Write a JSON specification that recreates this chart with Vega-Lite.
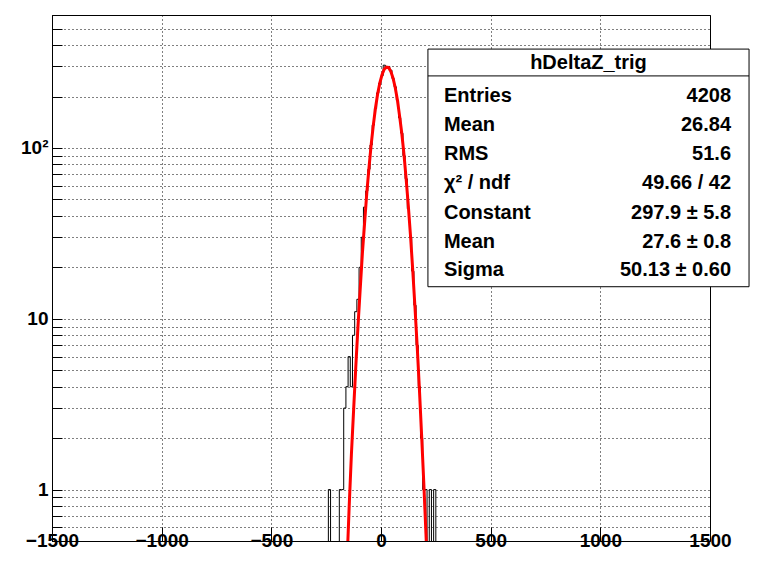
{
"$schema":"https://vega.github.io/schema/vega-lite/v6.json",
"width":658,"height":526,"autosize":"none",
"padding":{"left":52,"top":15,"right":51,"bottom":38},
"background":"white",
"config":{"view":{"stroke":"black","strokeWidth":1},"font":"Liberation Sans"},
"datasets":{
"hist":[
{"x":-260,"n":0.3},{"x":-240,"n":1},{"x":-230,"n":0.3},{"x":-190,"n":1},{"x":-180,"n":1},{"x":-170,"n":3},{"x":-160,"n":4},{"x":-150,"n":6},{"x":-140,"n":4},{"x":-130,"n":8},{"x":-120,"n":11},{"x":-110,"n":13},{"x":-100,"n":20},{"x":-90,"n":30},{"x":-80,"n":45},{"x":-70,"n":56},{"x":-60,"n":75},{"x":-50,"n":104},{"x":-40,"n":136},{"x":-30,"n":170},{"x":-20,"n":210},{"x":-10,"n":240},{"x":0,"n":265},{"x":10,"n":305},{"x":20,"n":295},{"x":30,"n":300},{"x":40,"n":285},{"x":50,"n":255},{"x":60,"n":228},{"x":70,"n":190},{"x":80,"n":150},{"x":90,"n":122},{"x":100,"n":90},{"x":110,"n":66},{"x":120,"n":44},{"x":130,"n":30},{"x":140,"n":19},{"x":150,"n":12},{"x":160,"n":7},{"x":170,"n":4},{"x":180,"n":2},{"x":190,"n":1},{"x":200,"n":1},{"x":210,"n":0.3},{"x":220,"n":1},{"x":230,"n":0.3},{"x":240,"n":1},{"x":250,"n":0.3},{"x":260,"n":0.3}
],
"fit":[
{"x":-160,"y":0.25},{"x":-145,"y":0.8},{"x":-135,"y":1.6},{"x":-125,"y":2.9},{"x":-115,"y":5.2},{"x":-105,"y":9},{"x":-95,"y":14.8},{"x":-85,"y":24},{"x":-75,"y":36},{"x":-65,"y":54},{"x":-55,"y":76},{"x":-45,"y":104},{"x":-35,"y":136},{"x":-25,"y":172},{"x":-15,"y":208},{"x":-5,"y":241},{"x":5,"y":269},{"x":15,"y":289},{"x":25,"y":297},{"x":35,"y":295},{"x":45,"y":280},{"x":55,"y":256},{"x":65,"y":225},{"x":75,"y":190},{"x":85,"y":153},{"x":95,"y":121},{"x":105,"y":91},{"x":115,"y":65},{"x":125,"y":45},{"x":135,"y":30},{"x":145,"y":19},{"x":155,"y":11.6},{"x":165,"y":6.9},{"x":175,"y":3.9},{"x":185,"y":2.1},{"x":195,"y":1.1},{"x":205,"y":0.55},{"x":215,"y":0.27}
],
"stats":[
{"label":"Entries","value":"4208","y":201},
{"label":"Mean","value":"26.84","y":136},
{"label":"RMS","value":"51.6","y":92},
{"label":"χ² / ndf","value":"49.66 / 42","y":62.4},
{"label":"Constant","value":"297.9 ± 5.8","y":41.7},
{"label":"Mean","value":"27.6 ± 0.8","y":28.2},
{"label":"Sigma","value":"50.13 ± 0.60","y":19.4}
]},
"layer":[
{"data":{"name":"hist"},"mark":{"type":"line","interpolate":"step-after","color":"black","strokeWidth":1,"clip":true},
"encoding":{
"x":{"field":"x","type":"quantitative","scale":{"domain":[-1500,1500],"nice":false},
"axis":{"values":[-1500,-1000,-500,0,500,1000,1500],"labelExpr":"replace(format(datum.value,'d'),'-','−')","grid":true,"gridDash":[1,3],"gridColor":"black","gridOpacity":1,"title":null,"labelFontSize":19,"labelFontWeight":"bold","labelColor":"black","labelPadding":4,"tickColor":"black","tickSize":-14,"domain":false,"labelFlush":false}},
"y":{"field":"n","type":"quantitative","scale":{"type":"log","domain":[0.5,600],"nice":false},
"axis":{"values":[0.5,0.6,0.7,0.8,0.9,1,2,3,4,5,6,7,8,9,10,20,30,40,50,60,70,80,90,100,200,300,400,500,600],"labelExpr":"datum.value==1?'1':datum.value==10?'10':datum.value==100?'10²':''","grid":true,"gridDash":[1,3],"gridColor":"black","gridOpacity":1,"title":null,"labelFontSize":19,"labelFontWeight":"bold","labelColor":"black","tickColor":"black","tickSize":-10,"domain":false,"labelPadding":14}}}},
{"data":{"name":"fit"},"mark":{"type":"line","color":"#ff0000","strokeWidth":3,"clip":true},
"encoding":{"x":{"field":"x","type":"quantitative"},"y":{"field":"y","type":"quantitative"}}},
{"data":{"values":[{"a":1}]},"mark":{"type":"rect","fill":"white","stroke":"black","strokeWidth":1,"clip":false},
"encoding":{"x":{"datum":214},"x2":{"datum":1678},"y":{"datum":379},"y2":{"datum":15.4}}},
{"data":{"values":[{"a":1}]},"mark":{"type":"rule","color":"black","clip":false},
"encoding":{"x":{"datum":214},"x2":{"datum":1678},"y":{"datum":264}}},
{"data":{"values":[{"t":"hDeltaZ_trig"}]},"mark":{"type":"text","fontSize":20,"fontWeight":"bold","baseline":"middle","align":"center","clip":false},
"encoding":{"x":{"datum":946},"y":{"datum":314},"text":{"field":"t"}}},
{"data":{"name":"stats"},"mark":{"type":"text","fontSize":20,"fontWeight":"bold","baseline":"middle","align":"left","clip":false},
"encoding":{"x":{"datum":287},"y":{"field":"y","type":"quantitative"},"text":{"field":"label"}}},
{"data":{"name":"stats"},"mark":{"type":"text","fontSize":20,"fontWeight":"bold","baseline":"middle","align":"right","clip":false},
"encoding":{"x":{"datum":1596},"y":{"field":"y","type":"quantitative"},"text":{"field":"value"}}}
]}
